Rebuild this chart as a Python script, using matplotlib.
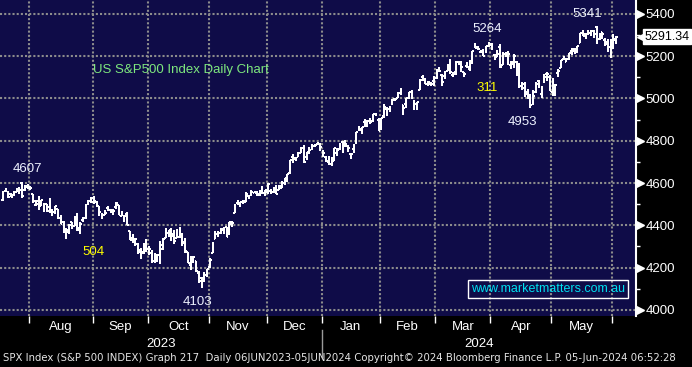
import numpy as np
import pandas as pd
import matplotlib
matplotlib.use("Agg")
import matplotlib.pyplot as plt
from matplotlib.lines import Line2D
from matplotlib.transforms import blended_transform_factory

# SPX daily bars, 18 Jul 2023 .. 04 Jun 2024 (estimated from chart)
opens = [
    4521, 4563, 4554, 4550, 4543, 4556, 4559, 4598, 4565, 4585,
    4578, 4550, 4494, 4514, 4492, 4499, 4502, 4487, 4451, 4459, 4479, 4433, 4417, 4345, 4380, 4416, 4397, 4455, 4389, 4426, 4433, 4500, 4517,
    4530, 4510, 4490, 4434, 4451, 4481, 4473, 4462, 4487, 4497, 4445, 4445, 4453, 4374, 4342, 4310, 4313, 4282, 4270, 4328,
    4284, 4270, 4233, 4260, 4234, 4289, 4339, 4366, 4380, 4360, 4342, 4345, 4357, 4321, 4273, 4211, 4236, 4232, 4176, 4153, 4139, 4171,
    4202, 4268, 4334, 4364, 4366, 4384, 4391, 4365, 4406, 4458, 4505, 4497, 4509, 4511, 4538, 4553, 4555, 4555, 4545, 4571, 4554,
    4559, 4564, 4557, 4586, 4568, 4577, 4601, 4619, 4647, 4722, 4714, 4725, 4744, 4765, 4725, 4753, 4759, 4773, 4786, 4782,
    4745, 4725, 4698, 4690, 4703, 4742, 4760, 4792, 4791, 4773, 4739, 4760, 4797, 4853, 4856, 4888, 4886, 4888, 4892, 4925, 4900,
    4862, 4916, 4950, 4951, 4973, 4996, 5004, 5027, 4967, 4976, 5003, 5032, 4989, 4963, 5038, 5100, 5093, 5074, 5067, 5085,
    5098, 5131, 5110, 5108, 5132, 5164, 5112, 5126, 5174, 5175, 5124, 5154, 5139, 5182, 5254, 5243, 5219, 5228, 5226, 5248,
    5258, 5204, 5194, 5245, 5158, 5211, 5217, 5158, 5172, 5171, 5150, 5064, 5069, 5031, 5006, 4988, 5029, 5085, 5020, 5085, 5114, 5104,
    5030, 5050, 5123, 5143, 5188, 5173, 5189, 5226, 5234, 5221, 5263, 5310, 5303, 5305, 5299, 5320, 5340, 5282, 5315, 5278, 5259, 5244,
    5297, 5278,
]
highs = [
    4562, 4578, 4564, 4555, 4564, 4577, 4582, 4607, 4590, 4594,
    4584, 4550, 4519, 4540, 4520, 4503, 4503, 4527, 4476, 4490, 4479, 4450, 4421, 4385, 4408, 4418, 4444, 4458, 4418, 4439, 4500, 4521, 4532,
    4541, 4515, 4490, 4458, 4473, 4491, 4479, 4475, 4510, 4498, 4466, 4449, 4461, 4375, 4357, 4338, 4314, 4292, 4317, 4333,
    4300, 4282, 4268, 4264, 4324, 4341, 4385, 4378, 4386, 4377, 4383, 4393, 4364, 4339, 4276, 4256, 4255, 4232, 4183, 4157, 4177, 4195,
    4245, 4320, 4373, 4372, 4386, 4391, 4393, 4418, 4421, 4502, 4521, 4511, 4521, 4557, 4542, 4568, 4560, 4561, 4568, 4587, 4569,
    4599, 4572, 4579, 4590, 4591, 4610, 4623, 4643, 4709, 4738, 4725, 4749, 4769, 4779, 4748, 4772, 4784, 4785, 4793, 4788,
    4755, 4729, 4726, 4721, 4765, 4765, 4791, 4798, 4802, 4782, 4744, 4785, 4843, 4868, 4866, 4903, 4899, 4906, 4929, 4932, 4907,
    4907, 4975, 4958, 4964, 4999, 5000, 5030, 5049, 4970, 5002, 5033, 5039, 4994, 4983, 5094, 5111, 5097, 5081, 5077, 5105,
    5140, 5149, 5114, 5128, 5165, 5189, 5125, 5179, 5179, 5176, 5127, 5175, 5180, 5225, 5261, 5247, 5230, 5236, 5249, 5265,
    5263, 5208, 5228, 5256, 5222, 5219, 5225, 5178, 5212, 5176, 5168, 5079, 5077, 5046, 5019, 5038, 5076, 5089, 5057, 5114, 5124, 5110,
    5096, 5069, 5140, 5182, 5200, 5191, 5215, 5240, 5238, 5250, 5311, 5325, 5305, 5325, 5324, 5323, 5342, 5311, 5315, 5288, 5280, 5280,
    5303, 5298,
]
lows = [
    4514, 4557, 4527, 4532, 4541, 4556, 4548, 4528, 4564, 4574,
    4567, 4505, 4490, 4474, 4491, 4464, 4461, 4458, 4444, 4453, 4432, 4404, 4364, 4336, 4360, 4381, 4396, 4375, 4357, 4414, 4431, 4494, 4507,
    4502, 4487, 4443, 4431, 4448, 4469, 4460, 4450, 4479, 4447, 4442, 4417, 4402, 4329, 4316, 4303, 4265, 4239, 4265, 4275,
    4260, 4220, 4220, 4225, 4219, 4283, 4339, 4346, 4325, 4311, 4342, 4338, 4303, 4269, 4223, 4189, 4220, 4181, 4127, 4103, 4132, 4154,
    4197, 4268, 4334, 4347, 4357, 4359, 4343, 4354, 4393, 4458, 4496, 4487, 4500, 4510, 4525, 4541, 4552, 4540, 4537, 4547, 4537,
    4547, 4546, 4551, 4546, 4566, 4575, 4593, 4606, 4643, 4694, 4705, 4721, 4744, 4697, 4709, 4736, 4758, 4769, 4780, 4751,
    4722, 4700, 4687, 4683, 4703, 4730, 4756, 4740, 4769, 4747, 4714, 4740, 4785, 4845, 4833, 4865, 4866, 4881, 4887, 4916, 4845,
    4853, 4907, 4919, 4938, 4969, 4987, 5000, 5018, 4920, 4956, 4999, 4998, 4947, 4946, 5038, 5081, 5068, 5058, 5058, 5061,
    5094, 5127, 5057, 5091, 5128, 5117, 5100, 5110, 5160, 5124, 5104, 5146, 5131, 5161, 5240, 5230, 5216, 5203, 5213, 5245,
    5229, 5184, 5194, 5146, 5157, 5197, 5160, 5138, 5143, 5107, 5052, 5039, 5007, 4997, 4954, 4969, 5027, 5048, 5002, 5073, 5085, 5035,
    5014, 5012, 5104, 5143, 5180, 5172, 5182, 5206, 5211, 5217, 5262, 5296, 5283, 5302, 5298, 5286, 5257, 5278, 5281, 5250, 5222, 5191,
    5234, 5257,
]
closes = [
    4555, 4566, 4535, 4536, 4554, 4567, 4566, 4537, 4582, 4589,
    4577, 4513, 4501, 4478, 4518, 4499, 4468, 4468, 4464, 4490, 4437, 4404, 4370, 4370, 4400, 4388, 4436, 4376, 4406, 4433, 4497, 4514, 4508,
    4516, 4497, 4465, 4451, 4457, 4487, 4462, 4468, 4505, 4450, 4454, 4444, 4402, 4330, 4320, 4337, 4274, 4275, 4300, 4288,
    4288, 4229, 4263, 4258, 4308, 4336, 4358, 4376, 4349, 4327, 4373, 4373, 4314, 4278, 4224, 4217, 4248, 4186, 4137, 4117, 4167, 4194,
    4237, 4318, 4358, 4366, 4378, 4383, 4347, 4415, 4412, 4496, 4503, 4509, 4514, 4547, 4538, 4557, 4559, 4550, 4555, 4551, 4568,
    4595, 4569, 4567, 4549, 4585, 4604, 4622, 4644, 4707, 4720, 4719, 4741, 4768, 4698, 4746, 4755, 4775, 4782, 4783, 4770,
    4743, 4705, 4689, 4697, 4764, 4757, 4783, 4780, 4784, 4766, 4739, 4781, 4840, 4851, 4865, 4869, 4894, 4891, 4928, 4925, 4846,
    4906, 4959, 4943, 4954, 4995, 4998, 5027, 5022, 4953, 5001, 5030, 5006, 4976, 4982, 5087, 5089, 5070, 5078, 5070, 5096,
    5137, 5131, 5079, 5105, 5157, 5124, 5117, 5175, 5165, 5150, 5117, 5149, 5179, 5225, 5241, 5234, 5218, 5203, 5248, 5254,
    5243, 5205, 5211, 5147, 5204, 5202, 5209, 5161, 5199, 5123, 5061, 5051, 5022, 5011, 4967, 5010, 5070, 5071, 5048, 5100, 5116, 5036,
    5018, 5064, 5128, 5181, 5187, 5188, 5214, 5223, 5221, 5247, 5308, 5297, 5303, 5308, 5321, 5307, 5268, 5305, 5306, 5267, 5236, 5278,
    5283, 5291.34,
]
holidays = ['2023-09-04', '2023-11-23', '2023-12-25', '2024-01-01',
            '2024-01-15', '2024-02-19', '2024-03-29', '2024-05-27']
dates = pd.bdate_range('2023-07-18', '2024-06-04', freq='C', holidays=holidays)

peak_labels = ['4607', '4103', '5264', '4953', '5341']
move_labels = ['504', '311']

BG = '#0f0c48'
GRID = '#8c8c8c'
FONT = 'Liberation Sans'

idx = np.arange(len(closes))
fig = plt.figure(figsize=(6.92, 3.67), dpi=100, facecolor='black')
ax = fig.add_axes([0, 51 / 367, 636 / 692, 316 / 367])
ax.set_facecolor(BG)
ax.set_xlim(-1, 229.2)
ax.set_ylim(3971, 5466)

# month boundaries
month = dates.month
bounds = [i - 0.5 for i in range(1, len(dates)) if month[i] != month[i - 1]]
for y in range(4000, 5401, 200):
    ax.axhline(y, color=GRID, lw=1.5, ls=(0, (1, 1)), zorder=1)
for b in bounds:
    ax.axvline(b, color=GRID, lw=1.5, ls=(0, (1, 1)), zorder=1)

# OHLC bars
bar_kw = dict(color='white', lw=1.2, zorder=3, antialiased=False)
ax.vlines(idx, lows, highs, **bar_kw)
ax.hlines(opens, idx - 0.6, idx, **bar_kw)
ax.hlines(closes, idx, idx + 0.6, **bar_kw)

for s in ['left', 'top', 'bottom']:
    ax.spines[s].set_visible(False)
ax.spines['right'].set_color('white')
ax.spines['right'].set_linewidth(1.5)

# right axis
ax.yaxis.tick_right()
ax.set_yticks(range(4000, 5401, 200))
ax.set_yticks(range(4100, 5400, 200), minor=True)
ax.tick_params(axis='y', which='major', length=0, pad=7, labelcolor='white', labelsize=9.5)
ax.tick_params(axis='y', which='minor', length=3, width=1, color='white', direction='out')
for lab in ax.get_yticklabels():
    lab.set_fontfamily(FONT)
ytr = ax.get_yaxis_transform()
ax.plot([1.006] * 8, list(range(4000, 5401, 200)), ls='none', marker='>', ms=5.5,
        color='white', transform=ytr, clip_on=False, zorder=5)

# last price tag
last = closes[-1]
ax.plot([1.0095], [last], ls='none', marker='<', ms=7, color='white', mec='white',
        transform=ytr, clip_on=False, zorder=6)
ax.text(1.0135, last, f'{last:.2f}', transform=ytr, ha='left', va='center', color='black',
        fontsize=9, family=FONT, clip_on=False, zorder=7,
        bbox=dict(boxstyle='square,pad=0.12', fc='white', ec='white'))

# x axis
ax.set_xticks(bounds)
ax.set_xticklabels([])
ax.tick_params(axis='x', which='major', length=5, width=1, color='white', direction='out')
xtr = blended_transform_factory(ax.transData, ax.transAxes)
edges = [ax.get_xlim()[0]] + bounds + [ax.get_xlim()[1]]
for i in range(1, len(edges) - 2):
    d = dates[int(edges[i] + 0.5)]
    ax.text((edges[i] + edges[i + 1]) / 2, -0.036, d.strftime('%b'), transform=xtr,
            ha='center', va='center', color='white', fontsize=9.5, family=FONT)
jan = [b for b in bounds if dates[int(b + 0.5)].month == 1][0]
ax.text((edges[0] + jan) / 2, -0.09, '2023', transform=xtr, ha='center', va='center',
        color='white', fontsize=9.5, family=FONT)
ax.text((jan + edges[-1]) / 2, -0.09, '2024', transform=xtr, ha='center', va='center',
        color='white', fontsize=9.5, family=FONT)
ax.add_line(Line2D([jan, jan], [-0.045, -0.13], transform=xtr, color='#9a9a9a', lw=1,
                   clip_on=False))

# peak / trough labels
hi = np.array(highs)
lo = np.array(lows)
seg1 = slice(0, 20)
seg2 = slice(50, 90)
seg3 = slice(160, 185)
seg4 = slice(180, 200)
seg5 = slice(200, 223)
i1 = np.argmax(hi[seg1]) + seg1.start
i2 = np.argmin(lo[seg2]) + seg2.start
i3 = np.argmax(hi[seg3]) + seg3.start
i4 = np.argmin(lo[seg4]) + seg4.start
i5 = np.argmax(hi[seg5]) + seg5.start
spots = [(i1, hi[i1], 4, 9), (i2, lo[i2], -3, -10), (i3, hi[i3], -1, 10),
         (i4, lo[i4], -6, -10), (i5, hi[i5], -7, 9)]
for (i, v, dx, dy), t in zip(spots, peak_labels):
    ax.annotate(t, (i, v), xytext=(dx, dy), textcoords='offset points', ha='center',
                va='center', color='#eef2ff', fontsize=9.5, family=FONT, zorder=6)
ax.text(33, 4274, move_labels[0], ha='center', va='center', color='#ffff00', fontsize=9.5,
        family=FONT)
ax.text(175.3, 5052, move_labels[1], ha='center', va='center', color='#ffff00', fontsize=9.5,
        family=FONT)

ax.text(0.146, 0.778, 'US S&P500 Index Daily Chart', transform=ax.transAxes, ha='left',
        va='center', color='#7ee87e', fontsize=9.5, family=FONT)
ax.text(0.862, 0.085, 'www.marketmatters.com.au', transform=ax.transAxes, ha='center',
        va='center', color='#00e0f0', fontsize=9, family=FONT, zorder=6,
        bbox=dict(boxstyle='square,pad=0.25', fc='none', ec='white', lw=1))

fig.text(0.004, 0.024, 'SPX Index (S&P 500 INDEX) Graph 217  Daily 06JUN2023-05JUN2024 '
         'Copyright\u00a9 2024 Bloomberg Finance L.P. 05-Jun-2024 06:52:28',
         ha='left', va='center', color='#e6e6e6', fontsize=7.3, family='DejaVu Sans')

fig.savefig('out.png', dpi=100, facecolor='black')
